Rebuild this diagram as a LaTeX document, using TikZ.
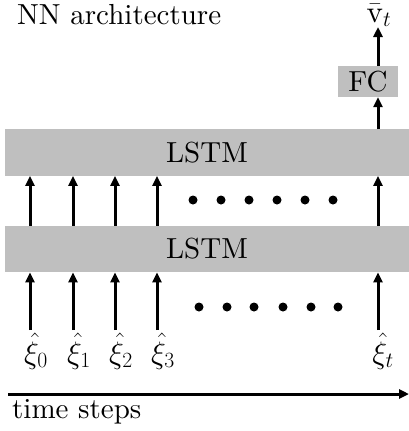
\RequirePackage{fix-cm}
\documentclass[tikz,border=0pt]{standalone}
\usepackage{fontspec}
\setmainfont{lmroman10}[Extension=.otf, UprightFont=*-regular, ItalicFont=*-italic, BoldFont=*-bold]
\usetikzlibrary{arrows.meta}
\definecolor{bargray}{RGB}{191,191,191}
\begin{document}
\begin{tikzpicture}[x=1pt,y=-1pt,
  every node/.style={font=\fontsize{29}{35}\selectfont, inner sep=0pt},
  mathlabel/.style={font=\fontsize{31}{37}\selectfont, anchor=base},
  layer/.style={fill=bargray, minimum width=404pt, minimum height=46.5pt},
  fcbox/.style={fill=bargray, minimum width=60pt, minimum height=31pt},
  arr/.style={line width=3pt, -{Triangle[length=10pt,width=9pt]}},
  dot/.style={fill=black, circle, minimum size=9pt}]
\useasboundingbox (0,0) rectangle (409,431);

% title
\node[anchor=base west] (title) at (17,24) {NN architecture};

% layers
\node[layer] (lstmA) at (207,249) {LSTM};
\node[layer] (lstmB) at (207,152.5) {LSTM};
\node[fcbox] (fc) at (368,81.5) {FC};
\node[mathlabel] (out) at (379,22) {$\bar{\mathrm{v}}_t$};

% input columns
\foreach \name/\x in {c0/30, c1/73, c2/115, c3/157, ct/378}
  \coordinate (\name) at (\x,330);

% input labels
\node[mathlabel] (x0) at (36,363) {$\hat{\xi}_0$};
\node[mathlabel] (x1) at (79,363) {$\hat{\xi}_1$};
\node[mathlabel] (x2) at (121,363) {$\hat{\xi}_2$};
\node[mathlabel] (x3) at (163,363) {$\hat{\xi}_3$};
\node[mathlabel] (xt) at (383,363) {$\hat{\xi}_t$};

% connections between layers
\foreach \c in {c0,c1,c2,c3,ct} {
  \draw[arr] (\c) -- (\c |- lstmA.south);
  \draw[arr] (\c |- lstmA.north) -- (\c |- lstmB.south);
}
\draw[arr] (ct |- lstmB.north) -- (ct |- fc.south);
\draw[arr] (ct |- fc.north) -- (ct |- 0,27);

% ellipsis dots
\foreach \x [count=\i] in {193,221,249,277,305,333}
  \node[dot] (u\i) at (\x,200) {};
\foreach \x [count=\i] in {199,227,254,283,311,338}
  \node[dot] (d\i) at (\x,307) {};

% time axis
\coordinate (ts) at (8,394);
\coordinate (te) at (409,394);
\draw[arr] (ts) -- (te);
\node[anchor=base west] (tlabel) at (12,418) {time steps};
\end{tikzpicture}
\end{document}
